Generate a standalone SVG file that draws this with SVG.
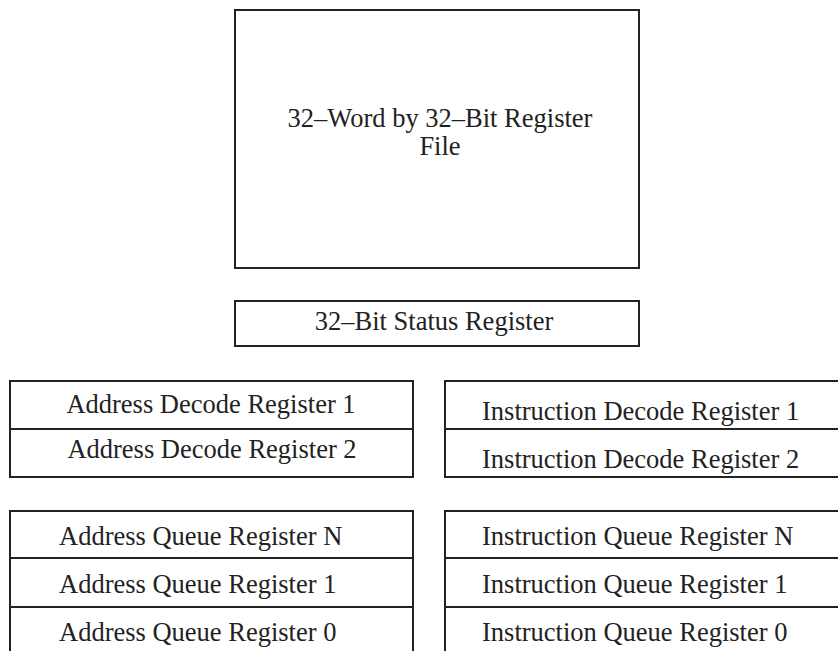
<svg xmlns="http://www.w3.org/2000/svg" width="838" height="651" viewBox="0 0 838 651">
<style>
.box{fill:#fff;stroke:#222;stroke-width:2}
.div{stroke:#222;stroke-width:2}
text{font-family:"Liberation Serif","Times New Roman",serif;font-size:26.5px;fill:#222}
.c{text-anchor:middle}
</style>
<rect width="838" height="651" fill="#fff"/>
<g id="register-file">
<rect class="box" x="235" y="10" width="404" height="258"/>
<text class="c" x="440" y="127">32–Word by 32–Bit Register</text>
<text class="c" x="440" y="155">File</text>
</g>
<g id="status-register">
<rect class="box" x="235" y="301" width="404" height="45"/>
<text class="c" x="434" y="330">32–Bit Status Register</text>
</g>
<g id="address-decode">
<rect class="box" x="10" y="381" width="403" height="96"/>
<line class="div" x1="10" y1="429" x2="413" y2="429"/>
<text class="c" x="211" y="413">Address Decode Register 1</text>
<text class="c" x="212" y="458">Address Decode Register 2</text>
</g>
<g id="instruction-decode">
<rect class="box" x="445" y="381" width="400" height="96"/>
<line class="div" x1="445" y1="429" x2="845" y2="429"/>
<text x="482" y="420">Instruction Decode Register 1</text>
<text x="482" y="468">Instruction Decode Register 2</text>
</g>
<g id="address-queue">
<rect class="box" x="10" y="511" width="403" height="150"/>
<line class="div" x1="10" y1="558" x2="413" y2="558"/>
<line class="div" x1="10" y1="607" x2="413" y2="607"/>
<text x="59" y="545">Address Queue Register N</text>
<text x="59" y="593">Address Queue Register 1</text>
<text x="59" y="641">Address Queue Register 0</text>
</g>
<g id="instruction-queue">
<rect class="box" x="445" y="511" width="400" height="150"/>
<line class="div" x1="445" y1="558" x2="845" y2="558"/>
<line class="div" x1="445" y1="607" x2="845" y2="607"/>
<text x="482" y="545">Instruction Queue Register N</text>
<text x="482" y="593">Instruction Queue Register 1</text>
<text x="482" y="641">Instruction Queue Register 0</text>
</g>
<g id="connectors"></g>
</svg>
